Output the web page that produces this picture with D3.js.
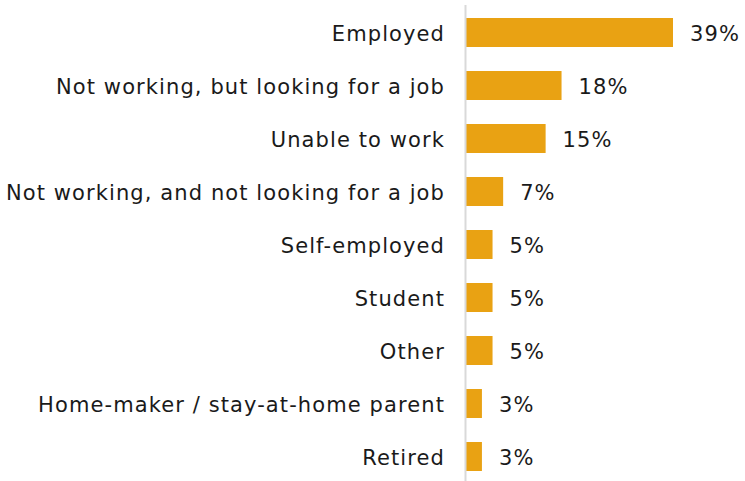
<!DOCTYPE html>
<html lang="en">
<head>
    <meta charset="UTF-8">
    <title>Employment status</title>
    <script src="https://cdn.jsdelivr.net/npm/d3@7"></script>
    <style>
        body { margin: 0; background: #fff; }
        svg { display: block; }
        text {
            font-family: Verdana, "DejaVu Sans", sans-serif;
            font-size: 21px;
            letter-spacing: 1.1px;
            fill: #1a1a1a;
        }
    </style>
</head>
<body>
<script>
    'use strict';
    var categories = [
        'Employed',
        'Not working, but looking for a job',
        'Unable to work',
        'Not working, and not looking for a job',
        'Self-employed',
        'Student',
        'Other',
        'Home-maker / stay-at-home parent',
        'Retired'
    ];
    var values = [39, 18, 15, 7, 5, 5, 5, 3, 3];

    var w = 745, h = 481;
    var svg = d3.select('body').append('svg')
        .attr('width', w)
        .attr('height', h);

    var x = d3.scaleLinear().domain([0, 39]).range([466, 673]);
    var y = d3.scaleBand()
        .domain(categories)
        .range([6, 483])
        .paddingInner(0.453)
        .paddingOuter(0.2265);

    var data = categories.map(function (c, i) {
        return { name: c, value: values[i] };
    });

    svg.selectAll('rect.bar')
        .data(data)
        .enter()
        .append('rect')
        .attr('class', 'bar')
        .attr('x', x(0))
        .attr('y', function (d) { return y(d.name); })
        .attr('width', function (d) { return x(d.value) - x(0); })
        .attr('height', y.bandwidth())
        .attr('fill', '#e9a213');

    // vertical axis line
    svg.append('line')
        .attr('x1', x(0) - 0.5).attr('x2', x(0) - 0.5)
        .attr('y1', 5).attr('y2', h)
        .attr('stroke', '#d9d9d9')
        .attr('stroke-width', 2);

    // category labels
    svg.selectAll('text.cat')
        .data(data)
        .enter()
        .append('text')
        .attr('class', 'cat')
        .attr('x', x(0) - 21)
        .attr('y', function (d) { return y(d.name) + y.bandwidth() / 2; })
        .attr('dy', '0.4em')
        .attr('text-anchor', 'end')
        .text(function (d) { return d.name; });

    // value labels
    svg.selectAll('text.val')
        .data(data)
        .enter()
        .append('text')
        .attr('class', 'val')
        .attr('x', function (d) { return x(d.value) + 17; })
        .attr('y', function (d) { return y(d.name) + y.bandwidth() / 2; })
        .attr('dy', '0.4em')
        .text(function (d) { return d.value + '%'; });
</script>
</body>
</html>
